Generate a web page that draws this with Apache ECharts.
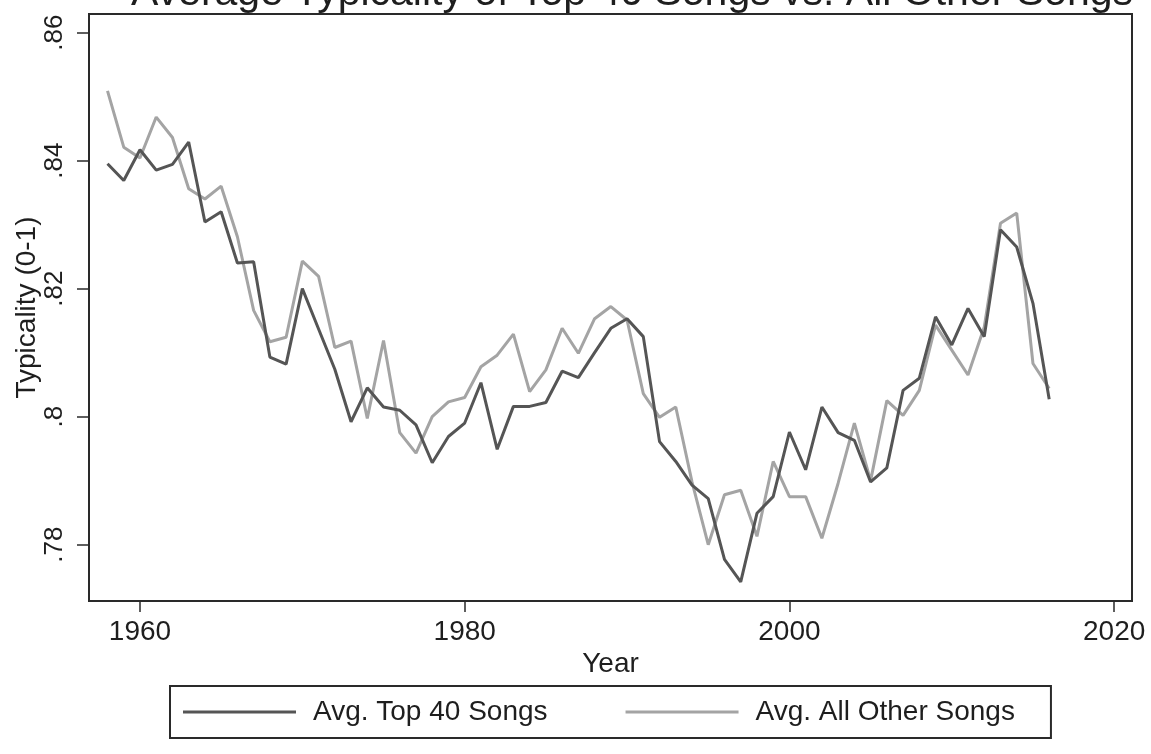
<!DOCTYPE html>
<html>
<head>
<meta charset="utf-8">
<title>Average Typicality of Top 40 Songs vs. All Other Songs</title>
<script src="https://cdn.jsdelivr.net/npm/echarts@6/dist/echarts.min.js"></script>
<style>
  html, body { margin: 0; padding: 0; background: #ffffff; }
  #chart { width: 1151px; height: 754px; }
</style>
</head>
<body>
<div id="chart"></div>
<script>
// Years covered by the series
const years = [
  1958, 1959, 1960, 1961, 1962, 1963, 1964, 1965, 1966, 1967,
  1968, 1969, 1970, 1971, 1972, 1973, 1974, 1975, 1976, 1977,
  1978, 1979, 1980, 1981, 1982, 1983, 1984, 1985, 1986, 1987,
  1988, 1989, 1990, 1991, 1992, 1993, 1994, 1995, 1996, 1997,
  1998, 1999, 2000, 2001, 2002, 2003, 2004, 2005, 2006, 2007,
  2008, 2009, 2010, 2011, 2012, 2013, 2014, 2015, 2016
];

// Average typicality of Top 40 songs per year
const top40 = [
  0.8395, 0.8369, 0.8417, 0.8385, 0.8394, 0.8429, 0.8304, 0.8320, 0.8240, 0.8242,
  0.8093, 0.8082, 0.8200, 0.8137, 0.8074, 0.7992, 0.8045, 0.8015, 0.8010, 0.7987,
  0.7928, 0.7969, 0.7990, 0.8053, 0.7949, 0.8016, 0.8016, 0.8022, 0.8071, 0.8061,
  0.8100, 0.8138, 0.8153, 0.8125, 0.7961, 0.7930, 0.7893, 0.7872, 0.7777, 0.7742,
  0.7849, 0.7875, 0.7976, 0.7917, 0.8015, 0.7975, 0.7963, 0.7898, 0.7920, 0.8041,
  0.8060, 0.8156, 0.8112, 0.8169, 0.8125, 0.8292, 0.8265, 0.8177, 0.8027
];

// Average typicality of all other songs per year
const others = [
  0.8509, 0.8421, 0.8404, 0.8468, 0.8436, 0.8356, 0.8340, 0.8360, 0.8281, 0.8166,
  0.8117, 0.8124, 0.8243, 0.8219, 0.8108, 0.8118, 0.7997, 0.8119, 0.7975, 0.7943,
  0.8000, 0.8023, 0.8030, 0.8078, 0.8096, 0.8129, 0.8039, 0.8073, 0.8138, 0.8099,
  0.8153, 0.8172, 0.8151, 0.8036, 0.7999, 0.8015, 0.7898, 0.7800, 0.7878, 0.7885,
  0.7813, 0.7930, 0.7875, 0.7875, 0.7810, 0.7896, 0.7990, 0.7900, 0.8025, 0.8002,
  0.8041, 0.8143, 0.8104, 0.8065, 0.8140, 0.8302, 0.8318, 0.8083, 0.8044
];

// Tick positions on each axis
const xTicks = [1960, 1980, 2000, 2020];
const yTicks = [0.78, 0.80, 0.82, 0.84, 0.86];

const seriesNames = ['Avg. Top 40 Songs', 'Avg. All Other Songs'];
const titleText = 'Average Typicality of Top 40 Songs vs. All Other Songs';

const FONT = '"Liberation Sans", Arial, Helvetica, sans-serif';
const INK = '#1e1e1e';
const DARK = '#555555';
const LIGHT = '#a4a4a4';

const pairs = (vals) => years.map((y, i) => [y, vals[i]]);

// ".86", ".8", ".78" style labels
const fmtY = (v) => {
  let s = v.toFixed(2).replace(/^0/, '');
  s = s.replace(/0$/, '');
  return s;
};

const chart = echarts.init(document.getElementById('chart'), null, { renderer: 'canvas' });

chart.setOption({
  backgroundColor: '#ffffff',
  animation: false,
  textStyle: { fontFamily: FONT, color: INK },
  graphic: [{
    type: 'text',
    x: 632,
    y: 14,
    z: 10,
    style: {
      text: titleText,
      fontFamily: FONT,
      fontSize: 41,
      fill: INK,
      textAlign: 'center',
      textVerticalAlign: 'bottom'
    }
  }],
  grid: {
    left: 89,
    right: 19,
    top: 14,
    bottom: 153,
    show: true,
    borderColor: '#2a2a2a',
    borderWidth: 2,
    backgroundColor: '#ffffff',
    containLabel: false,
    outerBoundsMode: 'none'
  },
  legend: {
    data: seriesNames,
    left: 170,
    top: 686,
    orient: 'horizontal',
    icon: 'rect',
    itemWidth: 113,
    itemHeight: 3,
    itemGap: 78,
    padding: [12, 36, 12, 13],
    borderColor: '#2a2a2a',
    borderWidth: 2,
    backgroundColor: '#ffffff',
    textStyle: {
      fontFamily: FONT,
      fontSize: 28,
      color: INK,
      padding: [0, 0, 0, 12]
    }
  },
  xAxis: {
    type: 'value',
    min: 1956.86,
    max: 2021.1,
    name: 'Year',
    nameLocation: 'middle',
    nameGap: 49,
    nameMoveOverlap: false,
    nameTextStyle: { fontFamily: FONT, fontSize: 28, color: INK },
    splitLine: { show: false },
    axisLine: { show: true, onZero: false, lineStyle: { color: '#2a2a2a', width: 2 } },
    axisTick: {
      show: true,
      customValues: xTicks,
      length: 11,
      lineStyle: { color: '#2a2a2a', width: 1.5 }
    },
    axisLabel: {
      customValues: xTicks,
      margin: 17,
      fontFamily: FONT,
      fontSize: 28,
      color: INK,
      formatter: (v) => String(Math.round(v))
    }
  },
  yAxis: {
    type: 'value',
    min: 0.7712,
    max: 0.8629,
    name: 'Typicality (0-1)',
    nameLocation: 'middle',
    nameGap: 48,
    nameMoveOverlap: false,
    nameTextStyle: { fontFamily: FONT, fontSize: 28, color: INK },
    splitLine: { show: false },
    axisLine: { show: true, onZero: false, lineStyle: { color: '#2a2a2a', width: 2 } },
    axisTick: {
      show: true,
      customValues: yTicks,
      length: 12,
      lineStyle: { color: '#2a2a2a', width: 1.5 }
    },
    axisLabel: {
      customValues: yTicks,
      rotate: 90,
      margin: 21,
      fontFamily: FONT,
      fontSize: 26,
      color: INK,
      formatter: fmtY
    }
  },
  series: [
    {
      name: seriesNames[0],
      type: 'line',
      data: pairs(top40),
      symbol: 'none',
      showSymbol: false,
      color: DARK,
      lineStyle: { color: DARK, width: 3 },
      z: 3
    },
    {
      name: seriesNames[1],
      type: 'line',
      data: pairs(others),
      symbol: 'none',
      showSymbol: false,
      color: LIGHT,
      lineStyle: { color: LIGHT, width: 3 },
      z: 2
    }
  ]
});
</script>
</body>
</html>
